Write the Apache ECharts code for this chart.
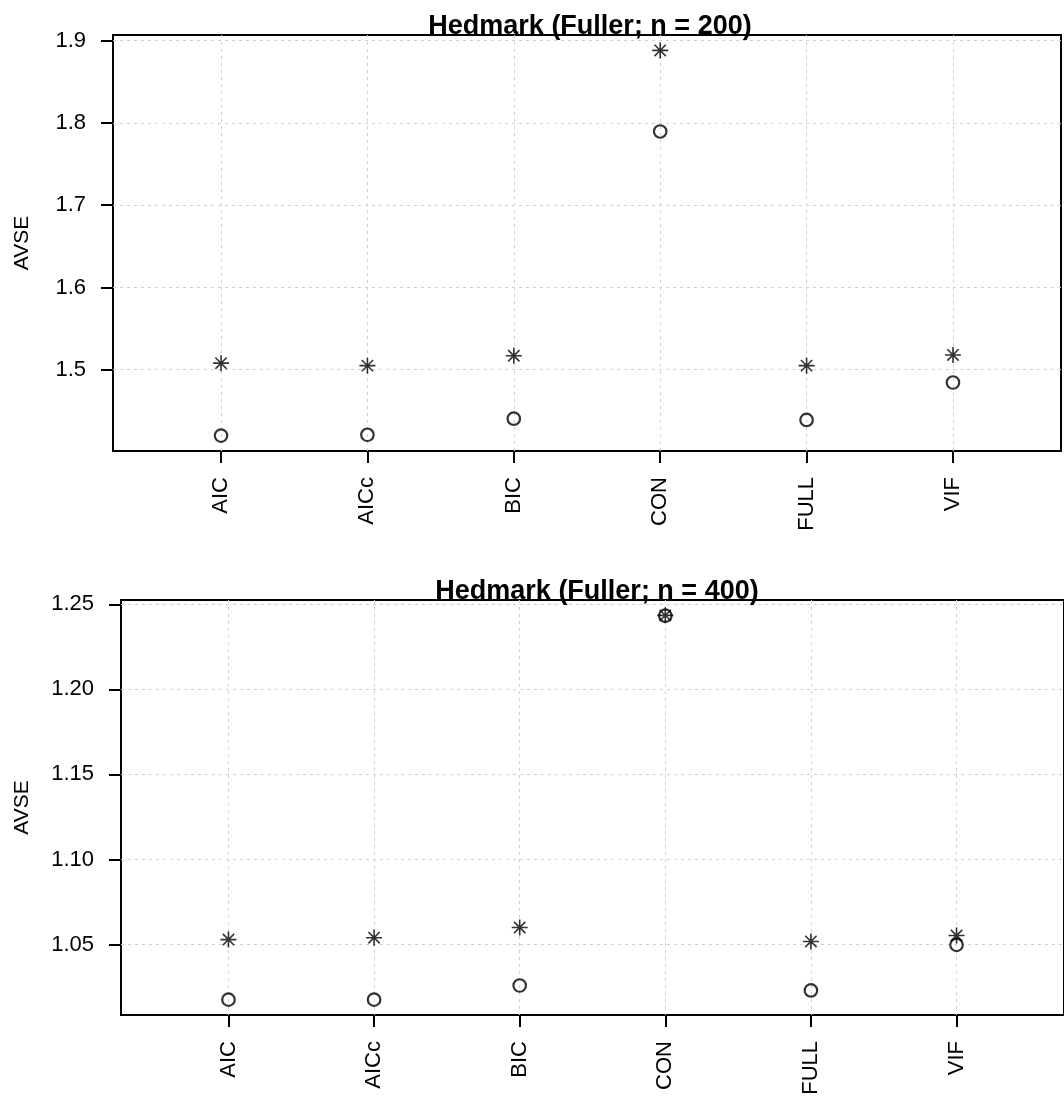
<!DOCTYPE html>
<html>
<head>
<meta charset="utf-8">
<script src="https://cdn.jsdelivr.net/npm/echarts@6/dist/echarts.min.js"></script>
<style>html,body{margin:0;padding:0;background:#fff}#c{width:1064px;height:1098px}</style>
</head>
<body>
<div id="c"></div>
<script>
const categories = ['AIC', 'AICc', 'BIC', 'CON', 'FULL', 'VIF'];
const catPositions = [1, 2, 3, 4, 5, 6];

const titleTop = 'Hedmark (Fuller; n = 200)';
const starTop = [1.508, 1.505, 1.517, 1.888, 1.505, 1.518];
const circleTop = [1.420, 1.421, 1.4405, 1.7895, 1.439, 1.4845];
const yTicksTop = [1.5, 1.6, 1.7, 1.8, 1.9];

const titleBottom = 'Hedmark (Fuller; n = 400)';
const starBottom = [1.0529, 1.0540, 1.0600, 1.2435, 1.0518, 1.0553];
const circleBottom = [1.0176, 1.0176, 1.0259, 1.2433, 1.0230, 1.0498];
const yTicksBottom = [1.05, 1.10, 1.15, 1.20, 1.25];

const yLabel = 'AVSE';

const FONT = 'Liberation Sans, Arial, Helvetica, sans-serif';
const gridLine = { show: true, lineStyle: { color: '#d0d0d0', type: [3, 4], width: 1 } };
const starPath = 'path://M0,-1.414L0,1.414M-1.414,0L1.414,0M-1,-1L1,1M-1,1L1,-1';

function rng(vals) {
  const lo = Math.min(...vals), hi = Math.max(...vals);
  const e = (hi - lo) * 0.04;
  return [lo - e, hi + e];
}
const rTop = rng(starTop.concat(circleTop));
const rBot = rng(starBottom.concat(circleBottom));

function xAxis(gi) {
  return {
    type: 'value', gridIndex: gi, min: 0.262, max: 6.738,
    axisLine: { show: false },
    axisTick: { show: true, length: 12, customValues: catPositions, lineStyle: { color: '#000', width: 2 } },
    axisLabel: {
      customValues: catPositions, rotate: 90, margin: 26,
      fontSize: 22, fontFamily: FONT, color: '#000',
      formatter: v => categories[Math.round(v) - 1] || ''
    },
    splitLine: gridLine
  };
}
function yAxis(gi, r, ticks, dec, gap) {
  return {
    type: 'value', gridIndex: gi, min: r[0], max: r[1],
    name: yLabel, nameLocation: 'middle', nameRotate: 90, nameGap: gap,
    nameTextStyle: { fontSize: 21, fontFamily: FONT, color: '#000' },
    axisLine: { show: false },
    axisTick: { show: true, length: 12, customValues: ticks, lineStyle: { color: '#000', width: 2 } },
    axisLabel: {
      customValues: ticks, margin: 27, fontSize: 22, fontFamily: FONT, color: '#000',
      formatter: v => Number(v).toFixed(dec)
    },
    splitLine: gridLine
  };
}
function pts(vals) { return vals.map((v, i) => [catPositions[i], v]); }
function circles(gi, vals) {
  return {
    type: 'scatter', xAxisIndex: gi, yAxisIndex: gi, data: pts(vals),
    symbol: 'circle', symbolSize: 12.5,
    itemStyle: { color: 'rgba(0,0,0,0)', borderColor: '#000', borderWidth: 2.2 },
    silent: true, z: 3
  };
}
function stars(gi, vals) {
  return {
    type: 'scatter', xAxisIndex: gi, yAxisIndex: gi, data: pts(vals),
    symbol: starPath, symbolSize: 16,
    itemStyle: { color: 'rgba(0,0,0,0)', borderColor: '#000', borderWidth: 1.6 },
    silent: true, z: 4
  };
}

const chart = echarts.init(document.getElementById('c'), null, { renderer: 'canvas' });
chart.setOption({
  animation: false,
  backgroundColor: '#fff',
  title: [
    { text: titleTop, left: 585, top: 8, textAlign: 'center',
      textStyle: { fontSize: 27, fontWeight: 'bold', fontFamily: FONT, color: '#000' } },
    { text: titleBottom, left: 592, top: 573, textAlign: 'center',
      textStyle: { fontSize: 27, fontWeight: 'bold', fontFamily: FONT, color: '#000' } }
  ],
  grid: [
    { left: 113, right: 3, top: 35, bottom: 647, show: true, borderColor: '#000', borderWidth: 2, backgroundColor: 'transparent' },
    { left: 121, right: -5, top: 600, bottom: 83, show: true, borderColor: '#000', borderWidth: 2, backgroundColor: 'transparent' }
  ],
  xAxis: [xAxis(0), xAxis(1)],
  yAxis: [yAxis(0, rTop, yTicksTop, 1, 80), yAxis(1, rBot, yTicksBottom, 2, 88)],
  series: [circles(0, circleTop), stars(0, starTop), circles(1, circleBottom), stars(1, starBottom)]
});
</script>
</body>
</html>
